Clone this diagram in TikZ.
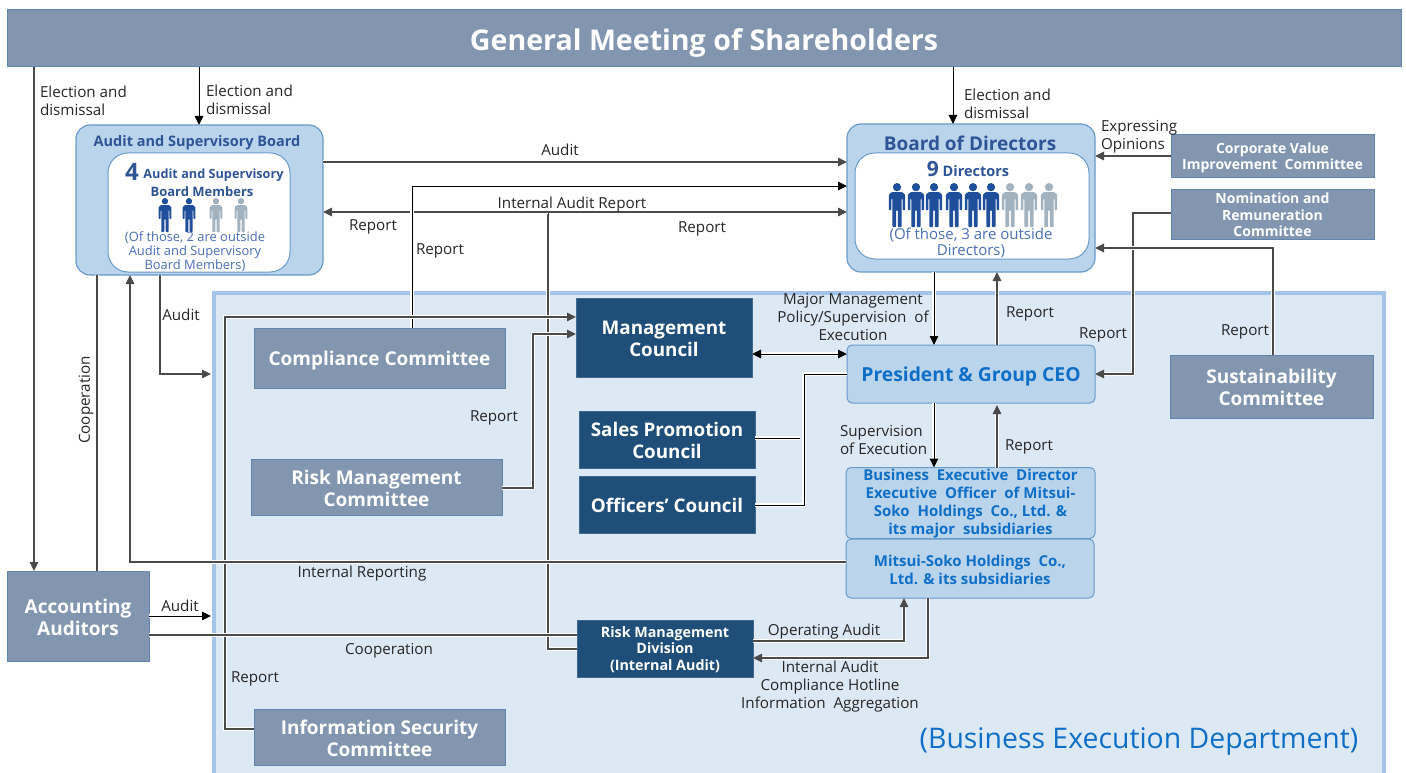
\documentclass[tikz,border=0pt]{standalone}
\usepackage{fontspec}
\setmainfont{Open Sans}
\usetikzlibrary{arrows.meta}
\definecolor{slatebox}{HTML}{8296B0}
\definecolor{slateline}{HTML}{5F85AE}
\definecolor{navybox}{HTML}{1F4E79}
\definecolor{lightbox}{HTML}{BAD4EC}
\definecolor{lightline}{HTML}{6A9BC8}
\definecolor{panelfill}{HTML}{DDE8F5}
\definecolor{panelline}{HTML}{A3C4E8}
\definecolor{titleblue}{HTML}{2F5597}
\definecolor{noteblue}{HTML}{4A6FB5}
\definecolor{brightblue}{HTML}{0F6FC6}
\definecolor{personblue}{HTML}{1F4E9B}
\definecolor{persongray}{HTML}{A2B3BF}
\definecolor{linegray}{HTML}{4A4A4A}
\newcommand{\fs}[2]{\fontsize{#1}{#2}\selectfont}
\tikzset{
  x=1pt,y=-1pt,
  base/.style={inner sep=0pt,outer sep=0pt,align=center,line width=1pt},
  slate/.style={base,fill=slatebox,draw=slateline,text=white,font=\bfseries\fs{19}{22}},
  navy/.style={base,fill=navybox,draw=navybox!85!white,text=white,font=\bfseries\fs{18.8}{22}},
  light/.style={base,fill=lightbox,draw=lightline,rounded corners=5pt,text=brightblue,font=\bfseries\fs{15}{18}},
  board/.style={base,fill=lightbox,draw=lightline,rounded corners=14pt,line width=1.2pt},
  inner/.style={base,fill=white,draw=lightline,rounded corners=20pt},
  lbl/.style={inner sep=0pt,outer sep=0pt,align=center,text=black!85,font=\fs{15.2}{18},yshift=-2pt},
  lblleft/.style={lbl,align=left,anchor=west},
  conn/.style={draw=linegray,line width=1.2pt,preaction={draw=white,line width=3.6pt}},
  connb/.style={draw=black,line width=1pt,preaction={draw=white,line width=3.2pt}},
  tip/.style={-{Triangle[length=9pt,width=8.5pt]}},
  tipboth/.style={{Triangle[length=9pt,width=8.5pt]}-{Triangle[length=9pt,width=8.5pt]}},
}
\newcommand{\bx}[7]{%
  \pgfmathsetmacro\cxv{(#3+#5)/2}\pgfmathsetmacro\cyv{(#4+#6)/2}%
  \pgfmathsetmacro\wv{#5-#3}\pgfmathsetmacro\hv{#6-#4}%
  \node[#1,minimum width=\wv pt,minimum height=\hv pt] (#2) at (\cxv,\cyv) {\rule{0pt}{\dimexpr0.76em+2pt\relax}#7};}
\newcommand{\person}[4]{%
  \begin{scope}[shift={(#1,#2)},scale=#3/34]
    \fill[#4] (0,3.2) circle[radius=3.2];
    \fill[#4,rounded corners=0.8pt] (-6.3,9)--(-4,7)--(4,7)--(6.3,9)--(6.3,21)--(4.3,21)--(4.3,12)--(3.6,12)--(3.6,34)--(0.6,34)--(0.6,21)--(-0.6,21)--(-0.6,34)--(-3.6,34)--(-3.6,12)--(-4.3,12)--(-4.3,21)--(-6.3,21)--cycle;
  \end{scope}}
\begin{document}
\begin{tikzpicture}
\useasboundingbox (0,0) rectangle (1406,773);
% panel
\fill[panelfill] (212,291) rectangle (1386,773);
\draw[panelline,line width=4.5pt] (214.2,773) -- (214.2,293.2) -- (1383.8,293.2) -- (1383.8,773);
% nodes
\bx{base,fill=slatebox,draw=slateline,text=white,font=\bfseries\fs{28.6}{32}}{top}{7}{10}{1401}{67}{\rule{0pt}{30pt}General Meeting of Shareholders}
\bx{slate}{aa}{7}{571}{149}{661}{Accounting\\Auditors}
\bx{slate}{comp}{254}{328}{505}{388}{\rule{0pt}{20pt}Compliance Committee}
\bx{slate}{risk}{251}{459}{502}{515}{Risk Management\\Committee}
\bx{slate}{info}{254}{709}{505}{765}{Information Security\\Committee}
\bx{slate,font=\bfseries\fs{14}{16}}{cvic}{1171}{135}{1374}{178}{Corporate Value\\Improvement\ \ Committee}
\bx{slate,font=\bfseries\fs{14}{16.5}}{nrc}{1171}{189}{1374}{239}{Nomination and\\Remuneration\\Committee}
\bx{slate}{sus}{1170}{355}{1373}{418}{Sustainability\\Committee}
\bx{navy}{mc}{576}{298}{752}{377}{Management\\Council}
\bx{navy}{spc}{579}{411}{755}{468}{Sales Promotion\\Council}
\bx{navy}{oc}{579}{476}{755}{533}{Officers’ Council}
\bx{navy,font=\bfseries\fs{14.3}{16.5}}{rmd}{577}{620}{753}{677}{Risk Management\\Division\\(Internal Audit)}
\bx{light,font=\bfseries\fs{19.3}{22}}{ceo}{847}{345}{1095}{403}{\rule{0pt}{19pt}President \& Group CEO}
\bx{light}{bed}{846}{468}{1095}{538}{Business\ \ Executive\ \ Director\\Executive\ \ Officer\ \ of Mitsui-\\Soko\ \ Holdings\ \ Co., Ltd. \&\\its major\ \ subsidiaries}
\bx{light}{msh}{846}{539}{1094}{598}{Mitsui-Soko Holdings\ \ Co.,\\Ltd. \& its subsidiaries}
\bx{board}{asb}{76}{125}{323}{275}{}
\bx{inner}{asbin}{108}{153}{290}{272}{}
\bx{board}{bod}{847}{124}{1095}{272}{}
\bx{inner}{bodin}{855}{153}{1089}{259}{}
% people
\foreach \px/\pc in {165/personblue,189/personblue,216/persongray,241/persongray}{\person{\px}{198}{34}{\pc}}
\foreach \px/\pc in {897/personblue,916/personblue,934/personblue,954/personblue,973/personblue,991/personblue,1010/persongray,1029/persongray,1049/persongray}{\person{\px}{183}{44}{\pc}}
% connectors, back to front
\draw[conn,tip] (top.south -| 34,0) -- (aa.north -| 34,0);
\draw[connb,tip] (top.south -| 199,0) -- (asb.north -| 199,0);
\draw[connb,tip] (top.south -| 953,0) -- (bod.north -| 953,0);
\draw[conn] (asb.south -| 97,0) -- (aa.north -| 97,0);
\draw[conn,tip] (asb.north east |- 0,162) -- (bod.north west |- 0,162);
\draw[conn,tip] (rmd.west |- 0,649) -- (548,649) -- (548,212) -- (bod.west |- 0,212);
\draw[conn,tip] (548,212) -- (asb.east |- 0,212);
\draw[connb,tip] (comp.north -| 412,0) -- (412,186) -- (bod.west |- 0,186);
\draw[conn,tip] (asb.south -| 160,0) -- (160,374) -- (211,374);
\draw[conn,tip] (info.west |- 0,729) -- (225,729) -- (225,317) -- (mc.west |- 0,317);
\draw[conn,tip] (risk.east |- 0,488) -- (533,488) -- (533,334) -- (mc.west |- 0,334);
\draw[conn,tip] (msh.west |- 0,562) -- (130,562) -- (asb.south -| 130,0);
\draw[connb,tip] (aa.east |- 0,616) -- (211,616);
\draw[conn] (aa.east |- 0,635) -- (rmd.west |- 0,635);
\draw[connb,tipboth] (mc.east |- 0,354) -- (ceo.west |- 0,354);
\draw[connb] (ceo.west |- 0,374) -- (804,374) -- (804,505) -- (oc.east |- 0,505);
\draw[connb] (spc.east |- 0,438) -- (800,438);
\draw[connb,tip] (bod.south -| 934,0) -- (ceo.north -| 934,0);
\draw[conn,tip] (ceo.north -| 997,0) -- (bod.south -| 997,0);
\draw[connb,tip] (ceo.south -| 934,0) -- (bed.north -| 934,0);
\draw[conn,tip] (bed.north -| 997,0) -- (997,405);
\draw[conn,tip] (cvic.west |- 0,156) -- (bod.east |- 0,156);
\draw[conn,tip] (nrc.west |- 0,213) -- (1133,213) -- (1133,374) -- (ceo.east |- 0,374);
\draw[conn,tip] (sus.north -| 1273,0) -- (1273,248) -- (bod.east |- 0,248);
\draw[conn,tip] (rmd.east |- 0,641) -- (904,641) -- (msh.south -| 904,0);
\draw[conn,tip] (msh.south -| 928,0) -- (928,658) -- (rmd.east |- 0,658);
% texts of the two boards
\node[lbl,text=titleblue,font=\bfseries\fs{14.5}{18}] (t1) at (197,141) {Audit and Supervisory Board};
\node[lbl,text=titleblue,font=\bfseries\fs{24}{26}] (t2) at (132,170) {4};
\node[lbl,text=titleblue,font=\bfseries\fs{12.7}{16}] (t3) at (213.5,173) {Audit and Supervisory};
\node[lbl,text=titleblue,font=\bfseries\fs{13}{16}] (t4) at (202,189.5) {Board Members};
\node[lbl,text=noteblue,font=\fs{12.9}{14}] (t5) at (195,249.5) {(Of those, 2 are outside\\Audit and Supervisory\\Board Members)};
\node[lbl,text=titleblue,font=\bfseries\fs{19}{22}] (t6) at (970,141) {Board of Directors};
\node[lbl,text=titleblue,font=\bfseries\fs{14.5}{18},anchor=base] (t7) at (968,175) {{\fs{21}{24}9} Directors};
\node[lbl,text=noteblue,font=\fs{15}{16}] (t8) at (971,240.5) {(Of those, 3 are outside\\Directors)};
% labels
\node[lblleft] (l1) at (40,99) {Election and\\dismissal};
\node[lblleft] (l2) at (206,98) {Election and\\dismissal};
\node[lblleft] (l3) at (964,101.5) {Election and\\dismissal};
\node[lblleft] (l4) at (1101,135) {Expressing\\Opinions};
\node[lbl] (l5) at (560,148) {Audit};
\node[lbl] (l6) at (572,203) {Internal Audit Report};
\node[lbl] (l7) at (373,225) {Report};
\node[lbl] (l8) at (702,227) {Report};
\node[lbl] (l9) at (440,249) {Report};
\node[lbl] (l10) at (181,313) {Audit};
\node[lbl,rotate=90,yshift=2pt] (l11) at (88,398) {Cooperation};
\node[lbl] (l12) at (853,315) {Major Management\\Policy/Supervision\ \ of\\Execution};
\node[lbl] (l13) at (1030,312) {Report};
\node[lbl] (l14) at (1103,333) {Report};
\node[lbl] (l15) at (1245,330) {Report};
\node[lbl] (l16) at (494,416) {Report};
\node[lblleft] (l17) at (840,438) {Supervision\\of Execution};
\node[lbl] (l18) at (1029,445) {Report};
\node[lbl] (l19) at (362,572) {Internal Reporting};
\node[lbl] (l20) at (180,604) {Audit};
\node[lbl] (l21) at (389,649) {Cooperation};
\node[lbl] (l22) at (255,677) {Report};
\node[lbl] (l23) at (824,630) {Operating Audit};
\node[lbl] (l24) at (830,685) {Internal Audit\\Compliance Hotline\\Information\ \ Aggregation};
\node[lbl,text=brightblue,font=\fs{28.4}{30}] (l25) at (1139,739) {(Business Execution Department)};
\end{tikzpicture}
\end{document}
